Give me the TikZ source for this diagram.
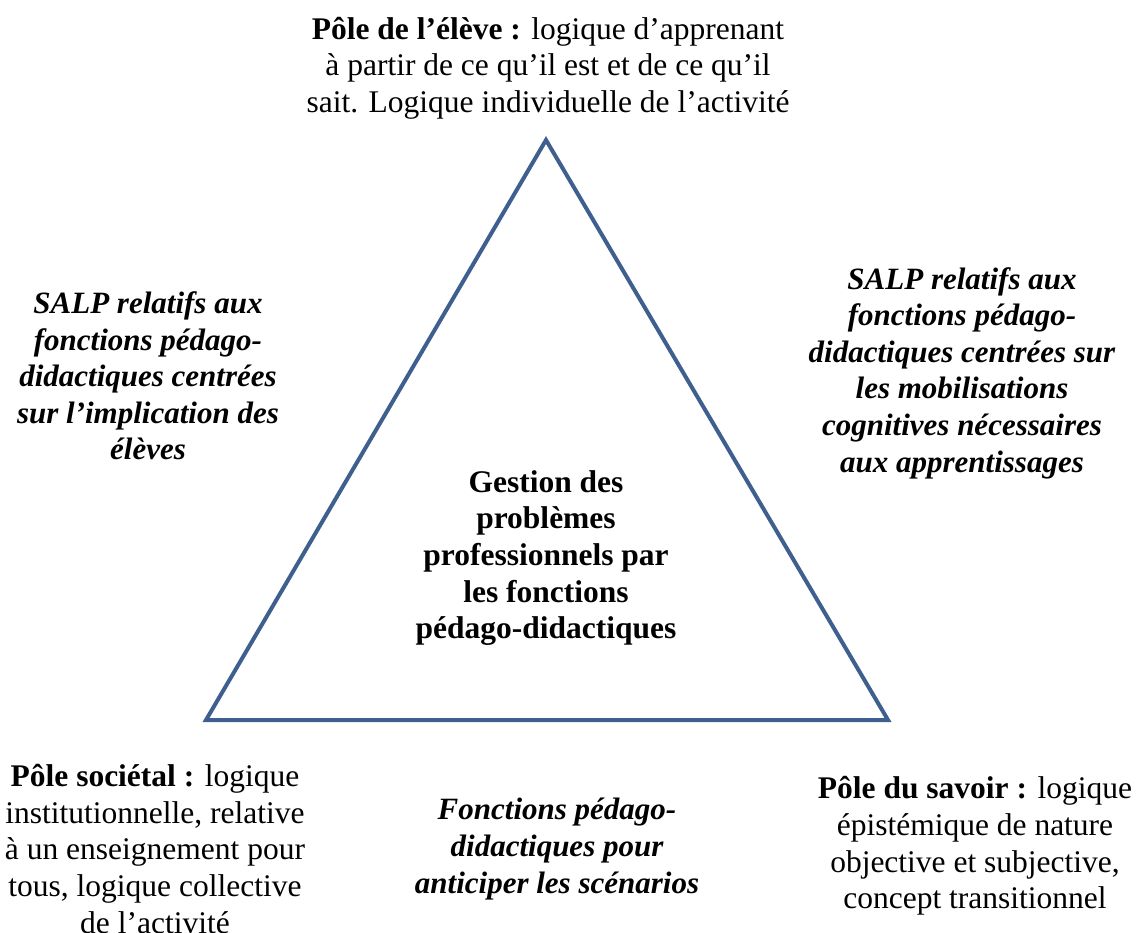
\documentclass[tikz,border=0pt]{standalone}
\usepackage{fontspec}
\setmainfont{Liberation Serif}
\definecolor{tri}{HTML}{3F5F8F}
\begin{document}
\begin{tikzpicture}[x=1pt,y=-1pt,
  txt/.style={align=center,inner sep=0pt,font=\fontsize{31.5}{36.6}\selectfont},
  itb/.style={txt,font=\fontsize{31}{36.6}\selectfont\bfseries\itshape}]
\useasboundingbox (0,0) rectangle (1138,932);
\coordinate (A) at (546,140);
\coordinate (B) at (206,720);
\coordinate (C) at (888,720);
\draw[tri,line width=4pt,line join=miter] (A) -- (B) -- (C) -- cycle;
\node[txt] (top) at (548,68) {\textbf{Pôle de l’élève :} logique d’apprenant\\à partir de ce qu’il est et de ce qu’il\\sait. Logique individuelle de l’activité};
\node[itb] (left) at (148,376) {SALP relatifs aux\\fonctions pédago-\\didactiques centrées\\sur l’implication des\\élèves};
\node[itb] (right) at (962,373) {SALP relatifs aux\\fonctions pédago-\\didactiques centrées sur\\les mobilisations\\cognitives nécessaires\\aux apprentissages};
\node[txt,font=\fontsize{31.5}{36.6}\selectfont\bfseries] (mid) at (546,558) {Gestion des\\problèmes\\professionnels par\\les fonctions\\pédago-didactiques};
\node[txt] (bl) at (155,849) {\textbf{Pôle sociétal :} logique\\institutionnelle, relative\\à un enseignement pour\\tous, logique collective\\de l’activité};
\node[itb] (bc) at (557,849) {Fonctions pédago-\\didactiques pour\\anticiper les scénarios};
\node[txt] (br) at (975,846) {\textbf{Pôle du savoir :} logique\\épistémique de nature\\objective et subjective,\\concept transitionnel};
\end{tikzpicture}
\end{document}
